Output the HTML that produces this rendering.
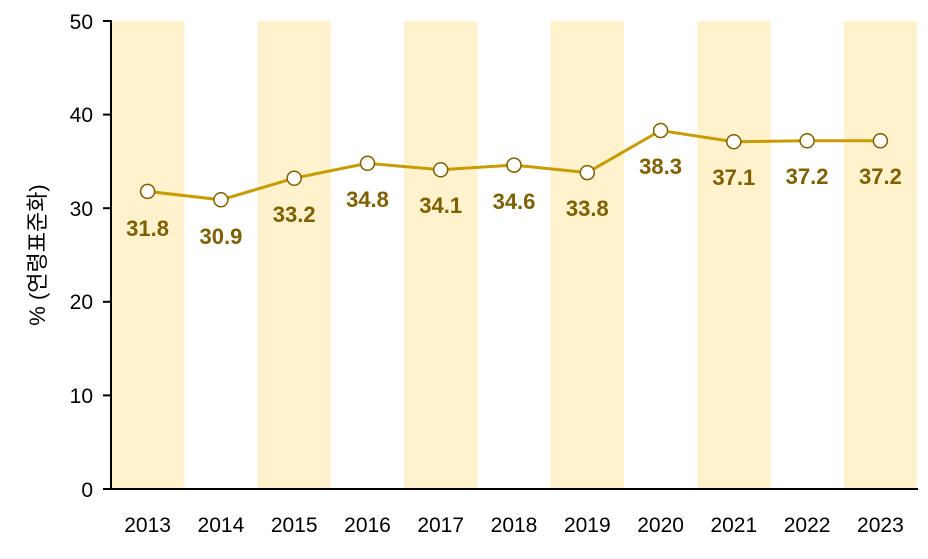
<!DOCTYPE html>
<html><head><meta charset="utf-8"><style>body{margin:0;background:#fff}</style></head><body>
<svg width="928" height="554" xmlns="http://www.w3.org/2000/svg" font-family="Liberation Sans, Noto Sans CJK KR, sans-serif">
<g fill="#FFF2CC">
<rect x="112" y="21" width="72.3" height="468"/>
<rect x="257.5" y="21" width="73.3" height="468"/>
<rect x="404.1" y="21" width="73.3" height="468"/>
<rect x="550.6" y="21" width="73.3" height="468"/>
<rect x="697.2" y="21" width="73.3" height="468"/>
<rect x="843.7" y="21" width="73.3" height="468"/>
</g>
<g stroke="#000" stroke-width="2">
<line x1="111" y1="20" x2="111" y2="490"/>
<line x1="110" y1="489" x2="918" y2="489"/>
<line x1="103" y1="21" x2="111" y2="21"/>
<line x1="103" y1="114.6" x2="111" y2="114.6"/>
<line x1="103" y1="208.2" x2="111" y2="208.2"/>
<line x1="103" y1="301.8" x2="111" y2="301.8"/>
<line x1="103" y1="395.4" x2="111" y2="395.4"/>
<line x1="103" y1="489" x2="111" y2="489"/>
</g>
<g font-size="21" text-anchor="end" fill="#000">
<text x="93" y="29">50</text><text x="93" y="122">40</text><text x="93" y="216">30</text>
<text x="93" y="309">20</text><text x="93" y="403">10</text><text x="93" y="497">0</text>
</g>
<text transform="translate(45,255) rotate(-90)" font-size="22" text-anchor="middle">% (연령표준화)</text>
<g font-size="21" text-anchor="middle">
<text x="147.6" y="532">2013</text><text x="220.9" y="532">2014</text><text x="294.2" y="532">2015</text>
<text x="367.5" y="532">2016</text><text x="440.7" y="532">2017</text><text x="514" y="532">2018</text>
<text x="587.3" y="532">2019</text><text x="660.6" y="532">2020</text><text x="733.8" y="532">2021</text>
<text x="807.1" y="532">2022</text><text x="880.4" y="532">2023</text>
</g>
<polyline fill="none" stroke="#C89B00" stroke-width="3" points="147.6,191.4 220.9,199.8 294.2,178.2 367.5,163.3 440.7,169.8 514,165.1 587.3,172.6 660.6,130.5 733.8,141.7 807.1,140.8 880.4,140.8"/>
<g fill="#fff" stroke="#7F6000" stroke-width="1.5">
<circle cx="147.6" cy="191.4" r="7"/><circle cx="220.9" cy="199.8" r="7"/><circle cx="294.2" cy="178.2" r="7"/>
<circle cx="367.5" cy="163.3" r="7"/><circle cx="440.7" cy="169.8" r="7"/><circle cx="514" cy="165.1" r="7"/>
<circle cx="587.3" cy="172.6" r="7"/><circle cx="660.6" cy="130.5" r="7"/><circle cx="733.8" cy="141.7" r="7"/>
<circle cx="807.1" cy="140.8" r="7"/><circle cx="880.4" cy="140.8" r="7"/>
</g>
<g font-size="22" font-weight="bold" fill="#7F6000" text-anchor="middle">
<text x="147.6" y="236">31.8</text><text x="220.9" y="244">30.9</text><text x="294.2" y="222">33.2</text>
<text x="367.5" y="207">34.8</text><text x="440.7" y="213">34.1</text><text x="514" y="209">34.6</text>
<text x="587.3" y="216">33.8</text><text x="660.6" y="174">38.3</text><text x="733.8" y="185">37.1</text>
<text x="807.1" y="184">37.2</text><text x="880.4" y="184">37.2</text>
</g>
</svg>
</body></html>
